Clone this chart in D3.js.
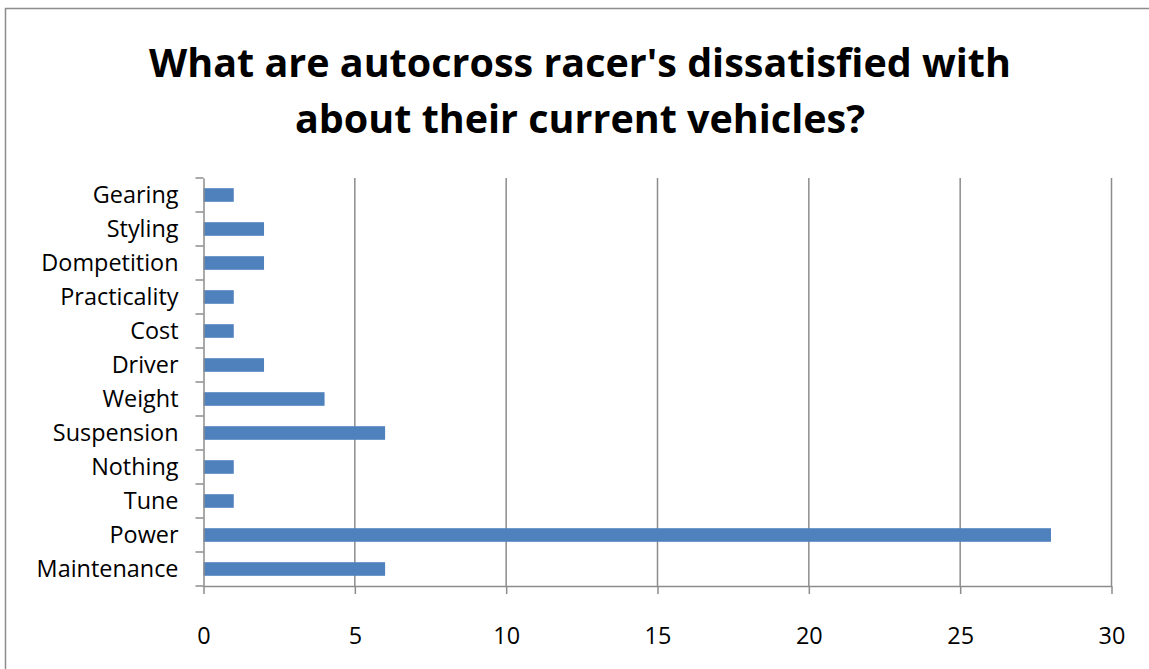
<!DOCTYPE html>
<html><head><meta charset="utf-8">
<script src="https://cdn.jsdelivr.net/npm/d3@7"></script>
<style>body{margin:0;background:#fff;} svg{display:block;}</style>
</head><body>
<svg id="c" width="1149" height="669"></svg>
<script>
const categories = ["Maintenance","Power","Tune","Nothing","Suspension","Weight","Driver","Cost","Practicality","Dompetition","Styling","Gearing"];
const values = [6,28,1,1,6,4,2,1,1,2,2,1];
const xTicks = [0,5,10,15,20,25,30];
const titleLines = ["What are autocross racer's dissatisfied with","about their current vehicles?"];

(function(){
const svg = d3.select("#c");
const font = "'Open Sans', Lato, sans-serif";
function fitSize(text, weight, target){
  const t = svg.append("text").attr("font-family",font).attr("font-weight",weight).attr("font-size",100).text(text);
  const w = t.node().getComputedTextLength(); t.remove();
  return 100*target/w;
}
const titleSize = fitSize(titleLines[0],"bold",862);
const labelSize = fitSize("Maintenance","normal",142);

svg.append("rect").attr("x",5.5).attr("y",8.5).attr("width",1160).attr("height",680)
  .attr("fill","#fff").attr("stroke","#8c8c8c").attr("stroke-width",1.5);

svg.selectAll("text.title").data(titleLines).enter().append("text")
  .attr("x",580).attr("y",(d,i)=>77+i*56).attr("text-anchor","middle")
  .attr("font-family",font).attr("font-weight","bold").attr("font-size",titleSize).attr("fill","#000").text(d=>d);

const pl=203.5, pr=1111.5, pt=178, pb=586;
const x = d3.scaleLinear().domain([0,30]).range([pl,pr]);
const y = d3.scaleBand().domain(categories).range([pb,pt]).paddingInner(0.6).paddingOuter(0.3);
const yb = d3.scaleBand().domain(categories).range([pb,pt]);

svg.append("g").selectAll("line").data(xTicks.filter(t=>t>0)).enter().append("line")
  .attr("x1",d=>x(d)).attr("x2",d=>x(d)).attr("y1",pt).attr("y2",pb)
  .attr("stroke","#8c8c8c").attr("stroke-width",1.5);

svg.append("g").selectAll("rect").data(categories).enter().append("rect")
  .attr("x",x(0)).attr("y",d=>y(d)).attr("height",y.bandwidth())
  .attr("width",(d,i)=>x(values[i])-x(0)).attr("fill","#4f81bd");

const xa = svg.append("g").attr("transform",`translate(0,${pb})`)
  .call(d3.axisBottom(x).tickValues(xTicks).tickSize(8).tickPadding(33).tickSizeOuter(0));
xa.select(".domain").attr("stroke","#8c8c8c").attr("stroke-width",1.5);
xa.selectAll(".tick line").attr("stroke","#8c8c8c").attr("stroke-width",1.5).attr("y2",8);
xa.selectAll("text").attr("font-family",font).attr("font-size",labelSize).attr("fill","#000");

const ya = svg.append("g").attr("transform",`translate(${pl},0)`)
  .call(d3.axisLeft(yb).tickSize(0).tickPadding(25));
ya.select(".domain").attr("stroke","#8c8c8c").attr("stroke-width",1.5);
ya.selectAll("text").attr("font-family",font).attr("font-size",labelSize).attr("fill","#000");
const bounds = categories.map(c=>yb(c)).concat([pb]);
svg.append("g").selectAll("line").data(bounds).enter().append("line")
  .attr("x1",pl-8).attr("x2",pl).attr("y1",d=>d).attr("y2",d=>d)
  .attr("stroke","#8c8c8c").attr("stroke-width",1.5);
})();
</script>
</body></html>
